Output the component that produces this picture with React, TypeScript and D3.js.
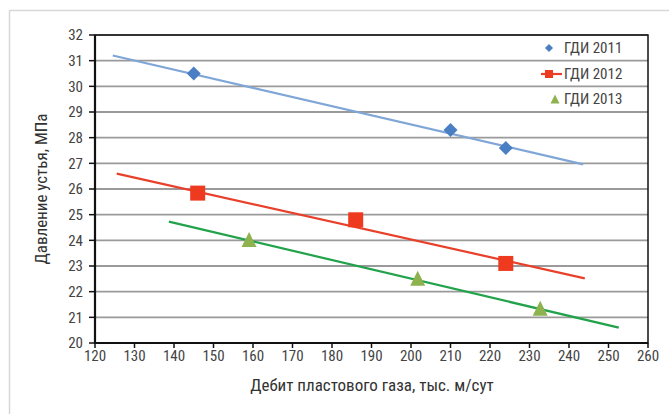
import React from "react";
import * as d3 from "d3";

const xTicks = [120, 130, 140, 150, 160, 170, 180, 190, 200, 210, 220, 230, 240, 250, 260];
const yTicks = [20, 21, 22, 23, 24, 25, 26, 27, 28, 29, 30, 31, 32];

const series2011 = [
  { x: 145, y: 30.5 },
  { x: 210, y: 28.3 },
  { x: 224, y: 27.6 },
];
const trend2011 = [
  { x: 124.5, y: 31.2 },
  { x: 243.6, y: 26.96 },
];
const series2012 = [
  { x: 146, y: 25.84 },
  { x: 186, y: 24.8 },
  { x: 224, y: 23.1 },
];
const trend2012 = [
  { x: 125.5, y: 26.6 },
  { x: 244, y: 22.52 },
];
const series2013 = [
  { x: 159, y: 23.97 },
  { x: 201.7, y: 22.46 },
  { x: 232.7, y: 21.3 },
];
const trend2013 = [
  { x: 138.7, y: 24.73 },
  { x: 252.6, y: 20.6 },
];
const legendLabels = ["ГДИ 2011", "ГДИ 2012", "ГДИ 2013"];

const FONT = "'Liberation Sans Narrow', 'Arial Narrow', 'Roboto Condensed', 'Liberation Sans', sans-serif";

export default function App() {
  const W = 669, H = 414;
  const left = 95, right = 648, top = 35, bottom = 343;
  const x = d3.scaleLinear().domain([120, 260]).range([left, right]);
  const y = d3.scaleLinear().domain([20, 32]).range([bottom, top]);
  const line = d3.line<{ x: number; y: number }>().x(d => x(d.x)).y(d => y(d.y));

  const diamond = (cx: number, cy: number, r: number) =>
    `M${cx},${cy - r}L${cx + r},${cy}L${cx},${cy + r}L${cx - r},${cy}Z`;
  const tri = (cx: number, cy: number, s: number) =>
    `M${cx},${cy - s * 0.6}L${cx + s / 2},${cy + s * 0.4}L${cx - s / 2},${cy + s * 0.4}Z`;

  const blueM = "#4a7fc4";
  const blueL = "#7fa6d6";
  const redM = "#ee3a1e";
  const redL = "#e8402a";
  const greenM = "#8db24e";
  const greenL = "#22a24a";

  return (
    <svg width={W} height={H} style={{ position: "absolute", left: 0, top: 0, background: "#fff" }}>
      <rect x={0} y={0} width={W} height={H} fill="#fff" />
      {/* outer light frame */}
      <line x1={9.5} y1={10} x2={9.5} y2={H} stroke="#d8d8d8" strokeWidth={1.5} />
      <line x1={9} y1={10.5} x2={W} y2={10.5} stroke="#d8d8d8" strokeWidth={1.5} />

      {/* gridlines */}
      {yTicks.map(t => (
        <line key={"g" + t} x1={left} x2={right} y1={y(t)} y2={y(t)} stroke="#9a9a9a" strokeWidth={1.8} />
      ))}

      {/* frame */}
      <rect x={left} y={top} width={right - left} height={bottom - top} fill="none" stroke="#111" strokeWidth={1.5} />
      <line x1={left} x2={left} y1={top} y2={bottom} stroke="#111" strokeWidth={2.2} />
      <line x1={left} x2={right} y1={bottom} y2={bottom} stroke="#111" strokeWidth={2.2} />

      {/* y ticks */}
      {yTicks.map(t => (
        <g key={"yt" + t}>
          <line x1={left - 6} x2={left} y1={y(t)} y2={y(t)} stroke="#111" strokeWidth={1.5} />
          <text x={83} y={y(t)} dy="0.36em" textAnchor="end" fontFamily={FONT} fontSize={15} fill="#444">{t}</text>
        </g>
      ))}
      {/* x ticks */}
      {xTicks.map(t => (
        <g key={"xt" + t}>
          <line x1={x(t)} x2={x(t)} y1={bottom} y2={bottom + 5} stroke="#111" strokeWidth={1.5} />
          <text x={x(t)} y={361} textAnchor="middle" fontFamily={FONT} fontSize={15} fill="#444">{t}</text>
        </g>
      ))}

      {/* axis titles */}
      <text x={372} y={391} textAnchor="middle" fontFamily={FONT} fontSize={17} fill="#333">Дебит пластового газа, тыс. м/сут</text>
      <text transform={`translate(47,${(top + bottom) / 2}) rotate(-90)`} textAnchor="middle" fontFamily={FONT} fontSize={17} fill="#333">Давление устья, МПа</text>

      {/* trend lines */}
      <path d={line(trend2011) || ""} stroke={blueL} strokeWidth={2.2} fill="none" />
      <path d={line(trend2012) || ""} stroke={redL} strokeWidth={2.2} fill="none" />
      <path d={line(trend2013) || ""} stroke={greenL} strokeWidth={2.2} fill="none" />

      {/* markers */}
      {series2011.map((d, i) => (
        <path key={"a" + i} d={diamond(x(d.x), y(d.y), 7)} fill={blueM} />
      ))}
      {series2012.map((d, i) => (
        <rect key={"b" + i} x={x(d.x) - 7.5} y={y(d.y) - 7.5} width={15} height={15} fill={redM} />
      ))}
      {series2013.map((d, i) => (
        <path key={"c" + i} d={tri(x(d.x), y(d.y), 15)} fill={greenM} />
      ))}

      {/* legend */}
      <g fontFamily={FONT} fontSize={15} fill="#444">
        <path d={diamond(549, 48, 4)} fill={blueM} />
        <text x={564} y={48} dy="0.36em">{legendLabels[0]}</text>
        <line x1={541} x2={562} y1={74} y2={74} stroke={redL} strokeWidth={2.2} />
        <rect x={545} y={70} width={8} height={8} fill={redM} />
        <text x={564} y={74} dy="0.36em">{legendLabels[1]}</text>
        <path d={tri(555, 100, 9)} fill={greenM} />
        <text x={564} y={99} dy="0.36em">{legendLabels[2]}</text>
      </g>
    </svg>
  );
}
